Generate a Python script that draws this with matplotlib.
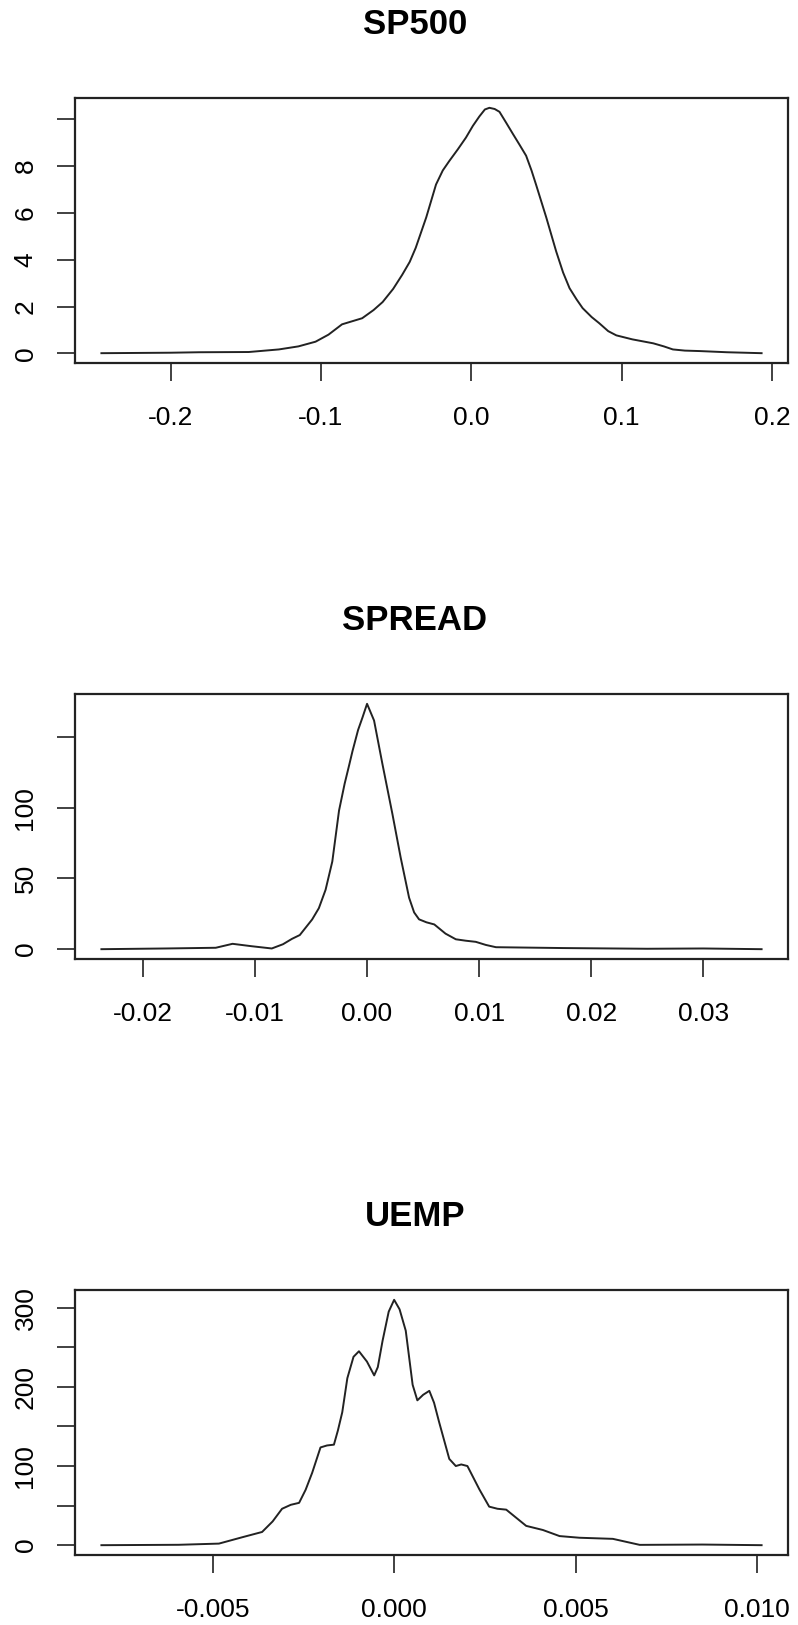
import matplotlib
matplotlib.use("Agg")
import matplotlib.pyplot as plt

plt.rcParams['font.family'] = ['Liberation Sans', 'DejaVu Sans']

# densidades (x = retorno, y = densidad)
sp500_x = [-0.246, -0.2, -0.181, -0.148, -0.128, -0.115, -0.1036, -0.095, -0.086,
           -0.0726, -0.065, -0.059, -0.052, -0.046, -0.041, -0.037, -0.030, -0.0235,
           -0.019, -0.0147, -0.009, -0.0036, 0.001, 0.0053, 0.009, 0.012, 0.0155,
           0.0187, 0.023, 0.0276, 0.032, 0.0364, 0.040, 0.043, 0.0498, 0.0564,
           0.061, 0.0653, 0.070, 0.074, 0.080, 0.085, 0.091, 0.0964, 0.107,
           0.121, 0.128, 0.134, 0.142, 0.152, 0.17, 0.193]
sp500_y = [0.01, 0.03, 0.05, 0.06, 0.17, 0.3, 0.5, 0.8, 1.24,
           1.5, 1.85, 2.19, 2.75, 3.35, 3.9, 4.5, 5.8, 7.2,
           7.8, 8.2, 8.7, 9.2, 9.7, 10.1, 10.4, 10.47, 10.42,
           10.3, 9.85, 9.36, 8.9, 8.43, 7.8, 7.2, 5.8, 4.35,
           3.45, 2.78, 2.3, 1.93, 1.55, 1.29, 0.95, 0.77, 0.6,
           0.43, 0.3, 0.17, 0.12, 0.1, 0.05, 0.01]

spread_x = [-0.0237, -0.018, -0.0135, -0.0120, -0.0103, -0.0085, -0.0075, -0.0067,
            -0.0060, -0.0055, -0.0049, -0.0043, -0.0037, -0.0031, -0.0028, -0.0025,
            -0.0020, -0.0016, -0.0013, -0.0008, -0.0004, 0.0, 0.000625,
            0.00137, 0.00226, 0.0030, 0.00375, 0.0042, 0.00464, 0.0053, 0.0060,
            0.0070, 0.00792, 0.0088, 0.0097, 0.0106, 0.0115, 0.0175, 0.025, 0.030,
            0.0352]
spread_y = [0.0, 0.5, 1.0, 3.8, 2.1, 0.5, 3.5, 7.3,
            10, 15, 21, 29, 42, 62, 80, 98,
            117, 130, 140, 155, 164, 173.5, 161.7,
            131, 95.7, 64.8, 36.4, 26, 21.1, 19, 17.5,
            11, 7.0, 6, 5.2, 3, 1.4, 0.8, 0.3, 0.5,
            0.0]

uemp_x = [-0.00807, -0.00594, -0.00483, -0.00419, -0.00364, -0.00335, -0.00309,
          -0.00285, -0.00262, -0.00244, -0.00226, -0.00203, -0.00185, -0.00166,
          -0.00155, -0.00143, -0.00129, -0.00112, -0.00097, -0.00075, -0.00055,
          -0.00045, -0.00032, -0.00015, 0.0, 0.00015, 0.00032, 0.00051, 0.00064,
          0.0008, 0.00097, 0.0011, 0.00124, 0.00152, 0.0017, 0.00185, 0.00202,
          0.00235, 0.00262, 0.00285, 0.00309, 0.00364, 0.0041, 0.00456,
          0.00511, 0.00603, 0.00677, 0.0085, 0.01013]
uemp_y = [0.0, 0.5, 2.0, 10, 16.7, 30, 46,
          51, 53.5, 70, 91.4, 123.5, 126, 127,
          145, 168, 211, 238, 245, 232, 214.5,
          225, 258, 295, 310, 298, 271, 202.6, 183,
          190, 195, 180, 155.5, 109, 100, 102, 100,
          70.5, 48.7, 46, 44.9, 24.4, 19.2, 11.5,
          9.4, 8.0, 0.4, 0.8, 0.0]

titles = ['SP500', 'SPREAD', 'UEMP']
xticks = [[-0.2, -0.1, 0.0, 0.1, 0.2],
          [-0.02, -0.01, 0.00, 0.01, 0.02, 0.03],
          [-0.005, 0.000, 0.005, 0.010]]
xlabels = [['-0.2', '-0.1', '0.0', '0.1', '0.2'],
           ['-0.02', '-0.01', '0.00', '0.01', '0.02', '0.03'],
           ['-0.005', '0.000', '0.005', '0.010']]
yticks = [[0, 2, 4, 6, 8, 10],
          [0, 50, 100, 150],
          [0, 50, 100, 150, 200, 250, 300]]
ylabels = [['0', '2', '4', '6', '8', ''],
           ['0', '50', '100', ''],
           ['0', '', '100', '', '200', '', '300']]

series = [(sp500_x, sp500_y), (spread_x, spread_y), (uemp_x, uemp_y)]

W, H = 798, 1625
fig = plt.figure(figsize=(W / 100, H / 100), dpi=100)

box_left, box_right = 75, 788
box_tops = [98, 694, 1290]
box_h = 265

for i, (xs, ys) in enumerate(series):
    top = box_tops[i]
    ax = fig.add_axes([box_left / W, 1 - (top + box_h) / H,
                       (box_right - box_left) / W, box_h / H])
    ax.plot(xs, ys, color='#222222', lw=1.4, solid_joinstyle='round')

    # rango estilo R (4% extra a cada lado)
    xr = max(xs) - min(xs)
    yr = max(ys) - min(ys)
    ax.set_xlim(min(xs) - 0.04 * xr, max(xs) + 0.04 * xr)
    ax.set_ylim(min(ys) - 0.04 * yr, max(ys) + 0.04 * yr)

    ax.set_xticks(xticks[i])
    ax.set_xticklabels(xlabels[i])
    ax.set_yticks(yticks[i])
    ax.set_yticklabels(ylabels[i], rotation=90, va='center')

    ax.tick_params(axis='both', direction='out', length=13, width=1.3,
                   labelsize=19, color='#333333')
    ax.tick_params(axis='x', pad=18)
    ax.tick_params(axis='y', pad=14)
    for sp in ax.spines.values():
        sp.set_linewidth(1.6)
        sp.set_color('#222222')

    fig.text(0.52, 1 - (top - 73) / H, titles[i], ha='center', va='center',
             fontsize=25, fontweight='bold')

fig.savefig('out.png', dpi=100)
